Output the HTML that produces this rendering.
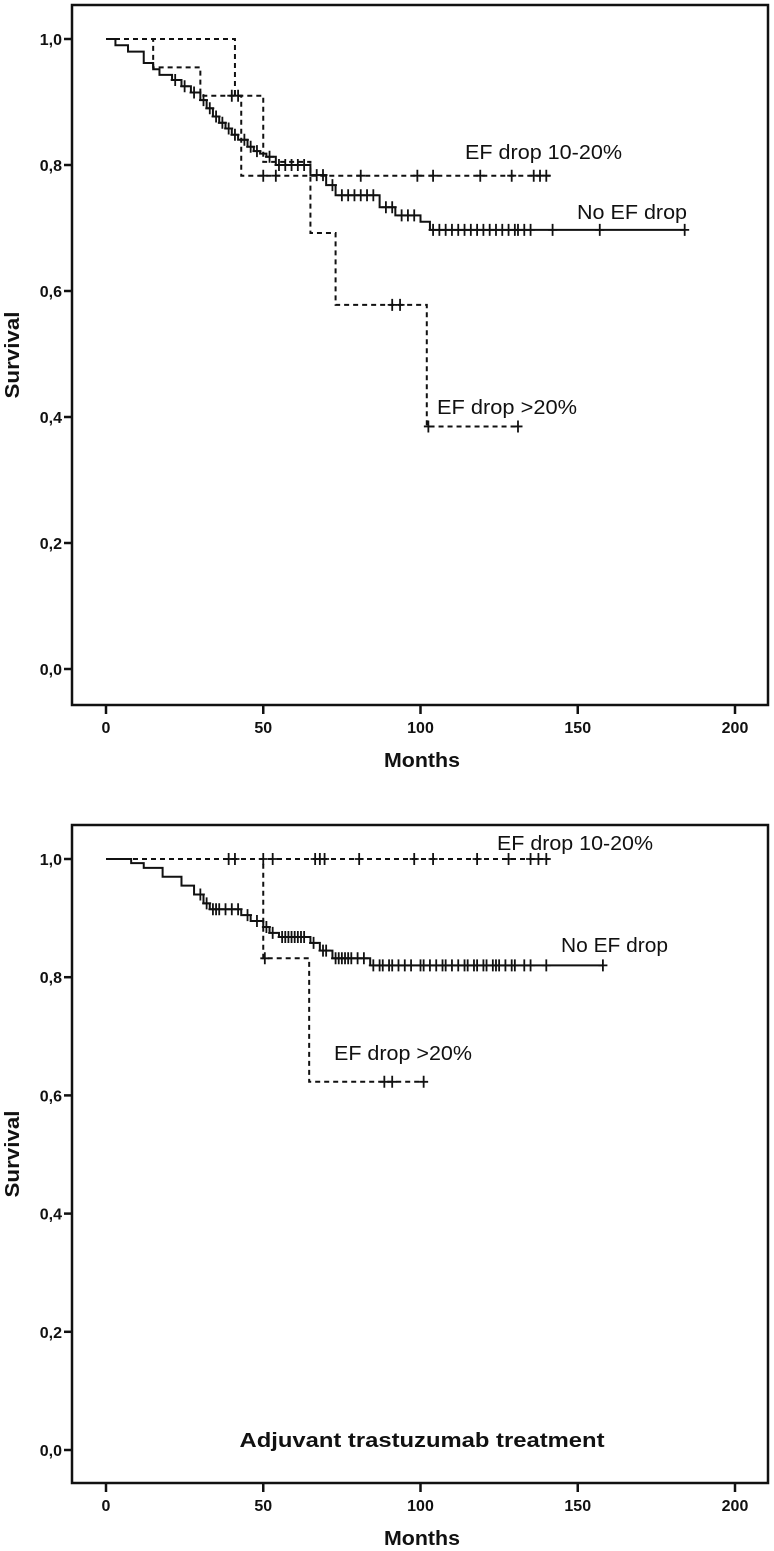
<!DOCTYPE html>
<html><head><meta charset="utf-8"><style>
html,body{margin:0;padding:0;background:#fff;}
svg{display:block;}
text{font-family:"Liberation Sans",Arial,sans-serif;fill:#111;}
.tick{font-size:16px;font-weight:bold;}
.axt{font-size:20px;font-weight:bold;}
.lab{font-size:20px;}
</style></head><body>
<svg id="chart" width="774" height="1551" viewBox="0 0 774 1551" xmlns="http://www.w3.org/2000/svg"></svg>
<script>
// ---- Top chart data (all patients) ----
const xTicks = [0, 50, 100, 150, 200];
const yTicks = [0, 0.2, 0.4, 0.6, 0.8, 1.0];
const yTickLabels = ["0,0", "0,2", "0,4", "0,6", "0,8", "1,0"];
const topNoTimes = [3,7,12,15,17,21,24,27,30,32,34,36,38,40,42,45,47,49,51,54,65,70,73,87,92,100,103];
const topNoSurv = [0.99,0.98,0.962,0.952,0.943,0.935,0.925,0.915,0.903,0.89,0.877,0.867,0.858,0.848,0.84,0.829,0.822,0.818,0.813,0.8,0.784,0.768,0.752,0.733,0.72,0.71,0.697];
const topNoEnd = 184;
const topNoCens = [22,25,28,31,33,35,37,39,41,44,46,48,52,55,57,59,61,63,67,69,72,75,77,79,81,83,85,89,91,94,96,98,104,106,108,110,112,114,116,118,120,122,124,126,128,130,131,133,135,142,157,184];
const topMidTimes = [15,30,43];
const topMidSurv = [0.955,0.91,0.783];
const topMidEnd = 142.5;
const topMidCens = [40,42,50,54,81,99,104,119,129,136,138,140];
const topHiTimes = [41,50,65,73,102];
const topHiSurv = [0.91,0.805,0.692,0.578,0.385];
const topHiEnd = 131;
const topHiCens = [91,93.5,102.5,131];
// ---- Bottom chart data (adjuvant trastuzumab) ----
const botNoTimes = [8,12,18,24,28,31,33,43,46,50,52,55,65,68,72,84];
const botNoSurv = [0.993,0.985,0.97,0.955,0.94,0.925,0.915,0.905,0.895,0.885,0.875,0.868,0.858,0.845,0.832,0.82];
const botNoEnd = 158;
const botNoCens = [30,32,34,35,36,38,40,42,45,48,51,53,56,57,58,59,60,61,62,63,66,69,70,73,74,75,76,77,78,80,82,85,87,88,90,91,93,95,97,100,101,103,105,107,108,110,112,114,115,117,118,120,121,123,124,125,127,129,130,133,135,140,158];
const botMidTimes = [];
const botMidSurv = [];
const botMidEnd = 141;
const botMidCens = [39,41,50,53,66.5,68,69.5,80.5,98,104,118,128,135,137.5,140];
const botHiTimes = [50,64.6];
const botHiSurv = [0.832,0.623];
const botHiEnd = 101;
const botHiCens = [50.5,88.5,91,101];

const NS = "http://www.w3.org/2000/svg";
const svg = document.getElementById("chart");
function mk(tag, attrs, parent){
  const e = document.createElementNS(NS, tag);
  for (const k in attrs) e.setAttribute(k, attrs[k]);
  (parent||svg).appendChild(e);
  return e;
}
function survAt(times, surv, t){
  let s = 1;
  for (let i=0;i<times.length;i++){ if (times[i] <= t) s = surv[i]; }
  return s;
}
function drawChart(cfg, prefix){
  const g = mk("g", {});
  
  
  const xs = m => 106 + m * (735 - 106) / 200;
  const ys = s => cfg.y0 - s * (cfg.y0 - cfg.y1);
  const frame = mk("rect", {x:72, y:cfg.top, width:696, height:cfg.bottom-cfg.top, fill:"none", stroke:"#111", "stroke-width":2.5}, g);
  
  
  yTicks.forEach((v,i)=>{
    const y = ys(v);
    const t = mk("line", {x1:64, x2:72, y1:y, y2:y, stroke:"#111", "stroke-width":2.5}, g);
    
    
    const l = mk("text", {x:62, y:y+6, "text-anchor":"end", class:"tick"}, g);
    l.textContent = yTickLabels[i];
    
    
  });
  xTicks.forEach(v=>{
    const x = xs(v);
    const t = mk("line", {x1:x, x2:x, y1:cfg.bottom, y2:cfg.bottom+9, stroke:"#111", "stroke-width":2.5}, g);
    
    
    const l = mk("text", {x:x, y:cfg.bottom+28, "text-anchor":"middle", class:"tick"}, g);
    l.textContent = String(v);
    
    
  });
  const xt = mk("text", {x:422, y:cfg.bottom+62, "text-anchor":"middle", class:"axt", textLength:76, lengthAdjust:"spacingAndGlyphs"}, g);
  xt.textContent = "Months";
  
  
  const cy = (cfg.top+cfg.bottom)/2;
  const yt = mk("text", {x:0, y:0, "text-anchor":"middle", class:"axt", transform:"translate(19,"+cy+") rotate(-90)", textLength:87, lengthAdjust:"spacingAndGlyphs"}, g);
  yt.textContent = "Survival";
  
  
  cfg.series.forEach(se=>{
    let d = "M" + xs(0) + "," + ys(1);
    se.times.forEach((t,i)=>{ d += " H" + xs(t) + " V" + ys(se.surv[i]); });
    d += " H" + xs(se.end);
    const p = mk("path", {d:d, fill:"none", stroke:"#111", "stroke-width":2, "stroke-dasharray":se.dash?"5,4":"none"}, g);
    
    
    se.cens.forEach(c=>{
      const x = xs(c), y = ys(survAt(se.times, se.surv, c));
      const m = mk("path", {d:"M"+(x-4.5)+","+y+" H"+(x+4.5)+" M"+x+","+(y-6)+" V"+(y+6), stroke:"#111", "stroke-width":1.8, fill:"none"}, g);
      
      
    });
  });
  cfg.labels.forEach(lb=>{
    const t = mk("text", {x:lb.x, y:lb.y+7, class:"lab", textLength:lb.w, lengthAdjust:"spacingAndGlyphs"}, g);
    t.textContent = lb.text;
    
    
  });
}
drawChart({top:5, bottom:705, y0:669, y1:39,
  series:[
    {name:"no-ef-drop", times:topNoTimes, surv:topNoSurv, end:topNoEnd, cens:topNoCens, dash:false},
    {name:"ef-drop-10-20", times:topMidTimes, surv:topMidSurv, end:topMidEnd, cens:topMidCens, dash:true},
    {name:"ef-drop-over-20", times:topHiTimes, surv:topHiSurv, end:topHiEnd, cens:topHiCens, dash:true}],
  labels:[
    {name:"label-ef-drop-10-20", text:"EF drop 10-20%", x:465, y:152, w:157},
    {name:"label-no-ef-drop", text:"No EF drop", x:577, y:212, w:110},
    {name:"label-ef-drop-over-20", text:"EF drop >20%", x:437, y:407, w:140}]
}, "top");
drawChart({top:825, bottom:1483, y0:1450, y1:859,
  series:[
    {name:"no-ef-drop", times:botNoTimes, surv:botNoSurv, end:botNoEnd, cens:botNoCens, dash:false},
    {name:"ef-drop-10-20", times:botMidTimes, surv:botMidSurv, end:botMidEnd, cens:botMidCens, dash:true},
    {name:"ef-drop-over-20", times:botHiTimes, surv:botHiSurv, end:botHiEnd, cens:botHiCens, dash:true}],
  labels:[
    {name:"label-ef-drop-10-20", text:"EF drop 10-20%", x:497, y:843, w:156},
    {name:"label-no-ef-drop", text:"No EF drop", x:561, y:945, w:107},
    {name:"label-ef-drop-over-20", text:"EF drop >20%", x:334, y:1053, w:138}]
}, "bottom");
const ttl = mk("text", {x:422, y:1447, "text-anchor":"middle", class:"axt", textLength:365, lengthAdjust:"spacingAndGlyphs"});
ttl.textContent = "Adjuvant trastuzumab treatment";


</script>
</body></html>
